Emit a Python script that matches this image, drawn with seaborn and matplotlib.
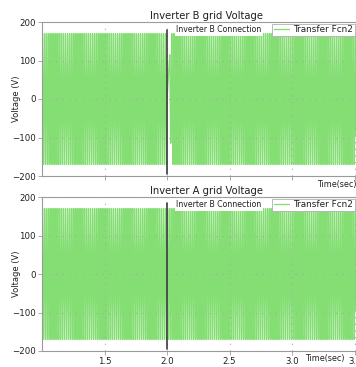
import numpy as np
import pandas as pd
import matplotlib
matplotlib.use("Agg")
import matplotlib.pyplot as plt
import seaborn as sns

# Grid waveform parameters (simulated 60 Hz grid voltage)
t_start, t_end, dt = 1.0, 3.51, 1e-4
grid_freq = 60.0              # Hz
peak_voltage = 170.0          # V
connection_time = 2.0         # s, Inverter B connection instant

# Inverter B voltage envelope after connection: (start time, end time, peak)
b_env_start = [2.0, 2.02, 2.035]
b_env_end = [2.02, 2.035, 3.51]
b_env_peak = [np.nan, 115.0, 170.0]

titles = ["Inverter B grid Voltage", "Inverter A grid Voltage"]
yticks = [-200, -100, 0, 100, 200]
xticks = [1.5, 2.0, 2.5, 3.0, 3.5]
xticklabels = ["1.5", "2.0", "2.5", "3.0", "3.5"]

t = np.arange(t_start, t_end, dt)
base = np.sin(2 * np.pi * grid_freq * t)

env_b = np.full_like(t, peak_voltage)
for s, e, p in zip(b_env_start, b_env_end, b_env_peak):
    env_b[(t >= s) & (t < e)] = p
v_b = env_b * base
v_a = peak_voltage * base

frames = [
    pd.DataFrame({"time": t, "voltage": v_b}),
    pd.DataFrame({"time": t, "voltage": v_a}),
]

sns.set_theme(style="white")
plt.rcParams["font.family"] = ["DejaVu Sans"]

W, H = 356, 367
fig = plt.figure(figsize=(W / 100, H / 100), dpi=100)

line_color = "#84de74"
grid_color = "#a8a8a8"
spine_color = "#9a9a9a"
text_color = "#202020"

ax_boxes = [(42, 22, 356, 176), (42, 197, 356, 351)]  # left, top, right, bottom (px)

for i, (df, title, box) in enumerate(zip(frames, titles, ax_boxes)):
    l, tp, r, b = box
    ax = fig.add_axes([l / W, 1 - b / H, (r - l) / W, (b - tp) / H])
    ax.set_facecolor("white")
    sns.lineplot(data=df, x="time", y="voltage", ax=ax, estimator=None,
                 color=line_color, linewidth=0.95, label="Transfer Fcn2",
                 zorder=2)
    ax.set_xlim(t_start, 3.51)
    ax.set_ylim(-200, 200)
    ax.set_yticks(yticks)
    ax.set_xticks(xticks)
    ax.set_xlabel("")
    ax.set_ylabel("Voltage (V)", fontsize=6, color=text_color)
    ax.yaxis.set_label_coords(-0.067, 0.5)
    ax.tick_params(axis="both", labelsize=6.2, length=3, width=0.6,
                   color=spine_color, pad=1.5, direction="out",
                   labelcolor=text_color)
    ax.tick_params(axis="both", which="both", bottom=True, left=True)
    if i == 0:
        ax.set_xticklabels([])
    else:
        ax.set_xticklabels(xticklabels)
    for sp in ax.spines.values():
        sp.set_color(spine_color)
        sp.set_linewidth(0.8)
    ax.grid(True, linestyle=(0, (1, 5)), color=grid_color, linewidth=0.8,
            zorder=3)
    ax.set_axisbelow(False)

    # connection marker
    ax.axvline(connection_time, ymin=0.01, ymax=0.95 if i == 0 else 0.96,
               color="#3c3c3c", linewidth=1.2, zorder=4)
    ax.text(2.075, 191, "Inverter B Connection", fontsize=5.6, va="top",
            ha="left", color=text_color, zorder=5,
            bbox=dict(boxstyle="square,pad=0.2", fc="white", ec="none"))

    leg = ax.legend(loc="upper right", bbox_to_anchor=(1.0, 0.995),
                    fontsize=6.4, frameon=True, fancybox=False,
                    handlelength=1.7, handletextpad=0.5,
                    borderpad=0.2, borderaxespad=0.1)
    leg.get_frame().set_edgecolor("#b0b0b0")
    leg.get_frame().set_linewidth(0.6)
    leg.get_frame().set_alpha(1.0)
    for txt in leg.get_texts():
        txt.set_color(text_color)
    leg.set_zorder(6)

    fig.text(206 / W, 1 - (tp - 1) / H, title, fontsize=7.2, ha="center",
             va="bottom", color=text_color)

fig.text(337 / W, 1 - 185 / H, "Time(sec)", fontsize=5.8, ha="center",
         va="center", color=text_color)
fig.text(325 / W, 1 - 359 / H, "Time(sec)", fontsize=5.8, ha="center",
         va="center", color=text_color)

fig.savefig("out.png", dpi=100)
